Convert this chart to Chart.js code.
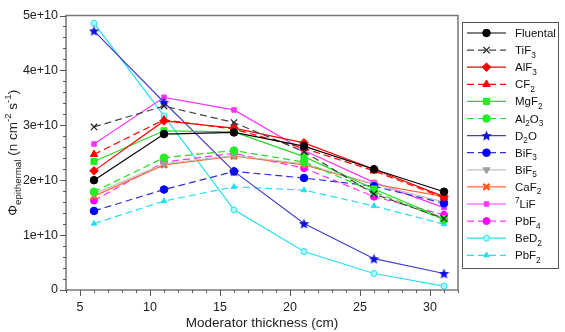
<!DOCTYPE html>
<html>
<head>
<meta charset="utf-8">
<script src="https://cdn.jsdelivr.net/npm/chart.js@4/dist/chart.umd.min.js"></script>
<style>
html,body{margin:0;padding:0;background:#fff;}
#wrap{width:565px;height:332px;}
</style>
</head>
<body>
<div id="wrap"><canvas id="c" width="565" height="332"></canvas></div>
<script>
// ---- data ----
const thickness = [6, 11, 16, 21, 26, 31];
const xTickLabels = [5, 10, 15, 20, 25, 30];
const yTickValues = [0, 1e10, 2e10, 3e10, 4e10, 5e10];
const fluental = [2.00e10, 2.84e10, 2.87e10, 2.62e10, 2.20e10, 1.79e10];
const tif3     = [2.97e10, 3.35e10, 3.05e10, 2.52e10, 1.75e10, 1.30e10];
const alf3     = [2.17e10, 3.08e10, 2.95e10, 2.68e10, 2.20e10, 1.70e10];
const cf2      = [2.47e10, 3.10e10, 2.93e10, 2.58e10, 2.17e10, 1.68e10];
const mgf2     = [2.34e10, 2.90e10, 2.88e10, 2.43e10, 1.84e10, 1.30e10];
const al2o3    = [1.79e10, 2.41e10, 2.54e10, 2.33e10, 1.79e10, 1.28e10];
const d2o      = [4.72e10, 3.42e10, 2.16e10, 1.21e10, 0.57e10, 0.30e10];
const bif3     = [1.44e10, 1.83e10, 2.16e10, 2.04e10, 1.89e10, 1.58e10];
const bif5     = [1.75e10, 2.30e10, 2.45e10, 2.30e10, 1.93e10, 1.60e10];
const caf2     = [1.71e10, 2.28e10, 2.44e10, 2.28e10, 1.93e10, 1.70e10];
const lif7     = [2.66e10, 3.51e10, 3.28e10, 2.54e10, 1.96e10, 1.50e10];
const pbf4     = [1.63e10, 2.33e10, 2.49e10, 2.22e10, 1.70e10, 1.37e10];
const bed2     = [4.86e10, 3.17e10, 1.46e10, 0.70e10, 0.30e10, 0.07e10];
const pbf2     = [1.21e10, 1.62e10, 1.88e10, 1.82e10, 1.53e10, 1.20e10];
const seriesNames = ['Fluental','TiF_3','AlF_3','CF_2','MgF_2','Al_2O_3','D_2O','BiF_3','BiF_5','CaF_2','^7LiF','PbF_4','BeD_2','PbF_2'];
const xTitle = 'Moderator thickness (cm)';
const yTitle = '\u03A6_{epithermal} (n cm^{-2} s^{-1})';

// ---- star marker ----
function makeStar(color, size) {
  const c = document.createElement('canvas');
  c.width = size; c.height = size;
  const g = c.getContext('2d');
  const cx = size/2, cy = size/2 + 0.5, R = size/2, r = R*0.45;
  g.beginPath();
  for (let i = 0; i < 10; i++) {
    const rad = (i % 2 === 0) ? R : r;
    const a = -Math.PI/2 + i*Math.PI/5;
    const px = cx + rad*Math.cos(a), py = cy + rad*Math.sin(a);
    if (i === 0) g.moveTo(px, py); else g.lineTo(px, py);
  }
  g.closePath();
  g.fillStyle = color; g.fill();
  return c;
}
const starImg = makeStar('#1010e0', 11);

const DASH = [7, 4];
const styles = [
  {c:'#000000', pc:'#000000', dash:[], ps:'circle', r:3.8},
  {c:'#444444', pc:'#222222', dash:DASH, ps:'crossRot', r:4.5, bw:1.2},
  {c:'#ff0000', pc:'#ff0000', dash:[], ps:'rectRot', r:4.3},
  {c:'#ff0000', pc:'#ff0000', dash:DASH, ps:'triangle', r:4.3},
  {c:'#22dd22', pc:'#22ee22', dash:[], ps:'rect', r:4.3},
  {c:'#22dd22', pc:'#22ee22', dash:DASH, ps:'circle', r:3.8},
  {c:'#4040cc', pc:'#1010e0', dash:[], ps:starImg, r:5.5},
  {c:'#3030dd', pc:'#0000ff', dash:DASH, ps:'circle', r:3.8},
  {c:'#c0c0c0', pc:'#a0a0a0', dash:[], ps:'triangle', r:4, rot:180},
  {c:'#ff6a33', pc:'#ff5a20', dash:[], ps:'crossRot', r:4.3, bw:2.6},
  {c:'#ff33ff', pc:'#ff33ff', dash:[], ps:'rect', r:3.2},
  {c:'#ff33ff', pc:'#ff00ff', dash:DASH, ps:'circle', r:3.5},
  {c:'#22e0f0', pc:'#22e0f0', dash:[], ps:'circle', r:3, fill:'#b0f8ff'},
  {c:'#22e0f0', pc:'#22e0f0', dash:DASH, ps:'triangle', r:3.2}
];
const allSeries = [fluental, tif3, alf3, cf2, mgf2, al2o3, d2o, bif3, bif5, caf2, lif7, pbf4, bed2, pbf2];

const datasets = allSeries.map((vals, i) => {
  const s = styles[i];
  return {
    label: seriesNames[i],
    data: thickness.map((x, j) => ({x: x, y: vals[j]})),
    borderColor: s.c,
    borderWidth: 1.2,
    borderDash: s.dash,
    pointStyle: s.ps,
    pointRadius: s.r,
    pointRotation: s.rot || 0,
    pointBackgroundColor: s.fill || s.pc,
    pointBorderColor: s.pc,
    pointBorderWidth: s.bw || 1,
    fill: false,
    tension: 0
  };
});

// ---- rich text helpers ----
function parseRich(str) {
  const segs = [];
  let i = 0, buf = '';
  while (i < str.length) {
    const ch = str[i];
    if (ch === '_' || ch === '^') {
      if (buf) { segs.push({t: buf, k: 'n'}); buf = ''; }
      let t;
      if (str[i+1] === '{') {
        const end = str.indexOf('}', i+2);
        t = str.slice(i+2, end); i = end + 1;
      } else { t = str[i+1]; i += 2; }
      segs.push({t: t, k: ch === '_' ? 'sub' : 'sup'});
    } else { buf += ch; i++; }
  }
  if (buf) segs.push({t: buf, k: 'n'});
  return segs;
}
const FAM = '"Liberation Sans", Arial, Helvetica, sans-serif';
function richWidth(ctx, segs, size) {
  let w = 0;
  segs.forEach(s => {
    ctx.font = (s.k === 'n' ? size : size*0.72) + 'px ' + FAM;
    w += ctx.measureText(s.t).width;
  });
  return w;
}
function drawRich(ctx, segs, x, y, size) {
  let cx = x;
  segs.forEach(s => {
    const sz = s.k === 'n' ? size : size*0.72;
    ctx.font = sz + 'px ' + FAM;
    let dy = 0;
    if (s.k === 'sub') dy = size*0.3;
    if (s.k === 'sup') dy = -size*0.42;
    ctx.fillText(s.t, cx, y + dy);
    cx += ctx.measureText(s.t).width;
  });
}

const deco = {
  id: 'deco',
  afterDraw(chart) {
    const ctx = chart.ctx;
    const a = chart.chartArea;
    const xs = chart.scales.x, ys = chart.scales.y;
    ctx.save();
    ctx.strokeStyle = '#777';
    ctx.lineWidth = 1.5;
    ctx.setLineDash([]);
    ctx.strokeRect(a.left, a.top, a.right - a.left, a.bottom - a.top);
    ctx.strokeStyle = '#555';
    ctx.lineWidth = 1;
    ctx.beginPath();
    for (let v = 4; v <= 32; v += 1) {
      const px = Math.round(xs.getPixelForValue(v)) + 0.5;
      const len = (v % 5 === 0) ? 6 : 3;
      ctx.moveTo(px, a.bottom); ctx.lineTo(px, a.bottom + len);
    }
    for (let k = 0; k <= 25; k++) {
      const v = k * 2e9;
      const py = Math.round(ys.getPixelForValue(v)) + 0.5;
      const len = (k % 5 === 0) ? 6 : 3;
      ctx.moveTo(a.left, py); ctx.lineTo(a.left - len, py);
    }
    ctx.stroke();

    ctx.fillStyle = '#222';
    ctx.textBaseline = 'alphabetic';
    const tsz = 13.5;
    const xs2 = parseRich(xTitle);
    const xw = richWidth(ctx, xs2, tsz);
    drawRich(ctx, xs2, (a.left + a.right)/2 - xw/2, 327, tsz);
    const ysg = parseRich(yTitle);
    const yw = richWidth(ctx, ysg, tsz);
    ctx.save();
    ctx.translate(17, (a.top + a.bottom)/2);
    ctx.rotate(-Math.PI/2);
    drawRich(ctx, ysg, -yw/2, 0, tsz);
    ctx.restore();

    const L = {left: 462, top: 22, right: 558, bottom: 268};
    ctx.fillStyle = '#fff';
    ctx.fillRect(L.left, L.top, L.right - L.left, L.bottom - L.top);
    ctx.strokeStyle = '#555';
    ctx.lineWidth = 1;
    ctx.strokeRect(L.left + 0.5, L.top + 0.5, L.right - L.left, L.bottom - L.top);
    const rowH = 17.1;
    chart.data.datasets.forEach((ds, i) => {
      const y = 33 + i * rowH;
      ctx.save();
      ctx.strokeStyle = ds.borderColor;
      ctx.lineWidth = 1.2;
      ctx.setLineDash(ds.borderDash || []);
      ctx.beginPath();
      ctx.moveTo(467, y); ctx.lineTo(506, y);
      ctx.stroke();
      ctx.setLineDash([]);
      ctx.fillStyle = ds.pointBackgroundColor;
      ctx.strokeStyle = ds.pointBorderColor;
      ctx.lineWidth = ds.pointBorderWidth;
      Chart.helpers.drawPoint(ctx, {
        pointStyle: ds.pointStyle, rotation: ds.pointRotation,
        radius: ds.pointRadius, borderWidth: ds.pointBorderWidth
      }, 486.5, y);
      ctx.restore();
      ctx.fillStyle = '#111';
      drawRich(ctx, parseRich(ds.label), 515, y + 4, 11.5);
    });
    ctx.restore();
  }
};

new Chart(document.getElementById('c'), {
  type: 'line',
  data: {datasets: datasets},
  plugins: [deco],
  options: {
    responsive: false,
    animation: false,
    devicePixelRatio: 1,
    layout: {padding: {left: 0, right: 107, top: 5, bottom: 0}},
    plugins: {legend: {display: false}, tooltip: {enabled: false}, title: {display: false}},
    scales: {
      x: {
        type: 'linear', min: 4, max: 32,
        afterBuildTicks: s => { s.ticks = xTickLabels.map(v => ({value: v})); },
        afterFit: s => { s.height = 42; },
        grid: {display: false, drawTicks: false, tickLength: 0},
        border: {display: false},
        ticks: {padding: 10, maxRotation: 0, autoSkip: false, color: '#222',
                font: {family: FAM, size: 12.5}}
      },
      y: {
        type: 'linear', min: 0, max: 5e10,
        afterBuildTicks: s => { s.ticks = yTickValues.map(v => ({value: v})); },
        afterFit: s => { s.width = 66; },
        grid: {display: false, drawTicks: false, tickLength: 0},
        border: {display: false},
        ticks: {padding: 8, color: '#222', font: {family: FAM, size: 12.5},
                callback: v => v === 0 ? '0' : (Math.round(v/1e10) + 'e+10')}
      }
    }
  }
});
</script>
</body>
</html>
